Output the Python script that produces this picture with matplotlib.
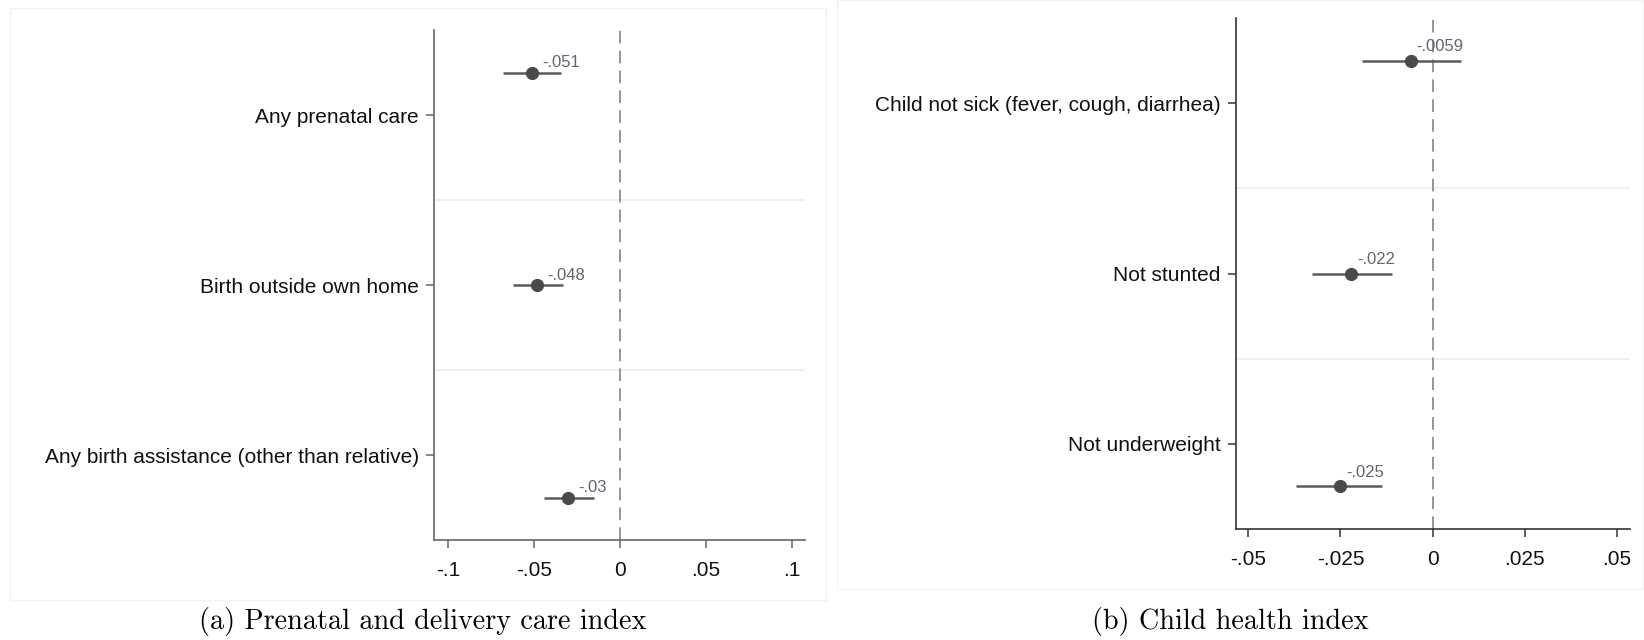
import matplotlib
matplotlib.use("Agg")
import matplotlib.pyplot as plt
from matplotlib.patches import Rectangle

# panel (a): prenatal and delivery care index
labels_a = ["Any prenatal care", "Birth outside own home",
            "Any birth assistance (other than relative)"]
coef_a = [-0.051, -0.048, -0.030]
lo_a = [-0.068, -0.062, -0.044]
hi_a = [-0.034, -0.033, -0.015]
text_a = ["-.051", "-.048", "-.03"]
xticks_a = [-0.1, -0.05, 0, 0.05, 0.1]
xticklabels_a = ["-.1", "-.05", "0", ".05", ".1"]

# panel (b): child health index
labels_b = ["Child not sick (fever, cough, diarrhea)", "Not stunted",
            "Not underweight"]
coef_b = [-0.0059, -0.022, -0.025]
lo_b = [-0.0192, -0.0328, -0.0371]
hi_b = [0.0076, -0.0111, -0.0138]
text_b = ["-.0059", "-.022", "-.025"]
xticks_b = [-0.05, -0.025, 0, 0.025, 0.05]
xticklabels_b = ["-.05", "-.025", "0", ".025", ".05"]

# where the markers sit relative to the category rows
point_rows = [0.75, 2.0, 3.25]

plt.rcParams['font.family'] = ['Liberation Sans', 'DejaVu Sans']

fig = plt.figure(figsize=(16.44, 6.4), dpi=100)

# faint frames around each sub-figure
fig.patches.append(Rectangle((10 / 1644, 40 / 640), 816 / 1644, 592 / 640,
                             transform=fig.transFigure, fill=False,
                             edgecolor="#f3f3f3", lw=1))
fig.patches.append(Rectangle((837 / 1644, 51 / 640), 806 / 1644, 589 / 640,
                             transform=fig.transFigure, fill=False,
                             edgecolor="#f3f3f3", lw=1))

ax_a = fig.add_axes([434 / 1644, 100 / 640, 371 / 1644, 510 / 640])
ax_b = fig.add_axes([1236 / 1644, 111 / 640, 394 / 1644, 511 / 640])


def draw_panel(ax, labels, coef, lo, hi, texts, xticks, xticklabels, xlim,
               spine_col, offs):
    rows = list(range(1, len(labels) + 1))
    for r in rows[:-1]:
        ax.axhline(r + 0.5, color="#e9f0f2", lw=1.2, zorder=0)
    ax.axvline(0, color="#8c8c8c", lw=1.3, dashes=(7, 4), zorder=1)
    ax.hlines(point_rows, lo, hi, color="#5a5a5a", lw=1.8, zorder=2)
    ax.plot(coef, point_rows, "o", color="#4a4a4a", ms=8.5, zorder=3)
    for x, y, t in zip(coef, point_rows, texts):
        ax.annotate(t, (x, y), xytext=offs, textcoords="offset points",
                    ha="left", va="center", fontsize=12, color="#5f6670")
    ax.set_ylim(3.5, 0.5)
    ax.set_yticks(rows)
    ax.set_yticklabels(labels, fontsize=15)
    ax.set_xlim(*xlim)
    ax.set_xticks(xticks)
    ax.set_xticklabels(xticklabels, fontsize=15)
    for s in ["top", "right"]:
        ax.spines[s].set_visible(False)
    for s in ["left", "bottom"]:
        ax.spines[s].set_color(spine_col)
        ax.spines[s].set_linewidth(1.2)
    ax.tick_params(axis="both", length=6, width=1.1, color=spine_col,
                   colors="#111111", pad=5)
    ax.tick_params(axis="x", pad=9)
    ax.tick_params(axis="both", color=spine_col)


draw_panel(ax_a, labels_a, coef_a, lo_a, hi_a, text_a, xticks_a,
           xticklabels_a, (-0.108, 0.1076), "#666666", (7, 7))
draw_panel(ax_b, labels_b, coef_b, lo_b, hi_b, text_b, xticks_b,
           xticklabels_b, (-0.0533, 0.0535), "#333333", (4, 10))

fig.text(423 / 1644, 1 - 621 / 640, "(a) Prenatal and delivery care index",
         family="cmr10", fontsize=20.3, ha="center", va="center")
fig.text(1230 / 1644, 1 - 621 / 640, "(b) Child health index",
         family="cmr10", fontsize=20.3, ha="center", va="center")

fig.savefig("out.png", dpi=100)
